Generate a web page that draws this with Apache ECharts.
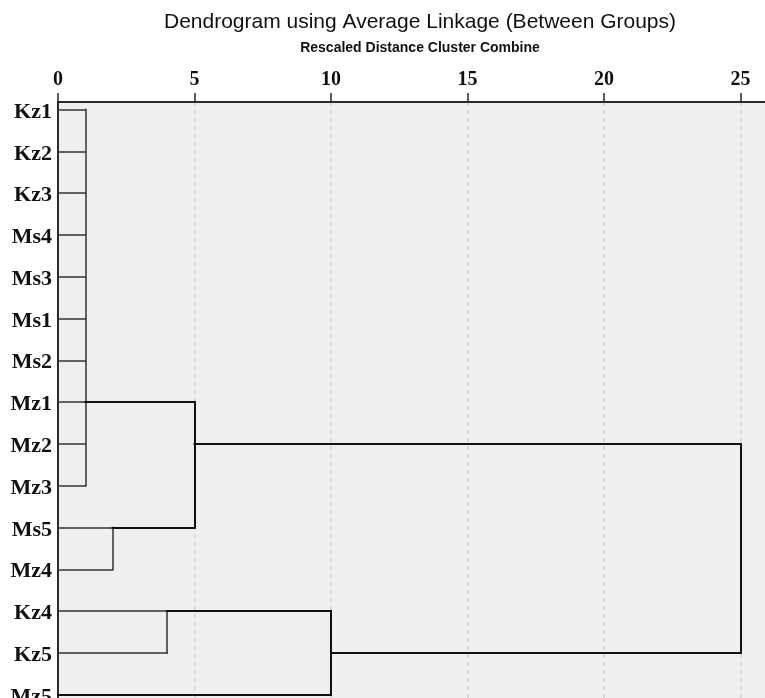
<!DOCTYPE html>
<html>
<head>
<meta charset="utf-8">
<script src="https://cdn.jsdelivr.net/npm/echarts@6.0.0/dist/echarts.min.js"></script>
<style>
  html, body { margin: 0; padding: 0; background: #ffffff; }
  #chart { width: 765px; height: 698px; }
</style>
</head>
<body>
<div id="chart"></div>
<script>
// ---- data ----
const leaves = ['Kz1','Kz2','Kz3','Ms4','Ms3','Ms1','Ms2','Mz1','Mz2','Mz3','Ms5','Mz4','Kz4','Kz5','Mz5'];
// children: leaf index (number) or earlier cluster ('c' + k)
const mergeChildren = [
  [0,1,2,3,4,5,6,7,8,9],
  [10,11],
  ['c0','c1'],
  [12,13],
  ['c3',14],
  ['c2','c4']
];
const mergeDistance = [1, 2, 5, 4, 10, 25];   // rescaled distance at which clusters combine
const mergeRow = [7, 10, 8, 12, 13, 10];        // row index of each cluster's connector line
const xTicks = [0, 5, 10, 15, 20, 25];
const titleText = 'Dendrogram using Average Linkage (Between Groups)';
const subtitleText = 'Rescaled Distance Cluster Combine';

// ---- build segments from the linkage ----
function nodeOf(ref) {
  if (typeof ref === 'number') return { x: 0, y: ref };
  const k = parseInt(ref.slice(1), 10);
  return { x: mergeDistance[k], y: mergeRow[k] };
}
const darkSegs = [];
const graySegs = [];
mergeChildren.forEach((children, k) => {
  const d = mergeDistance[k];
  const target = d >= 5 ? darkSegs : graySegs;
  const nodes = children.map(nodeOf);
  nodes.forEach(n => {
    target.push({ coords: [[n.x, n.y], [d, n.y]] });
  });
  const ys = nodes.map(n => n.y);
  target.push({ coords: [[d, Math.min(...ys)], [d, Math.max(...ys)]] });
});

const chart = echarts.init(document.getElementById('chart'), null, { renderer: 'canvas' });
chart.setOption({
  animation: false,
  backgroundColor: '#ffffff',
  title: [
    { text: titleText, left: 415, top: 7, textAlign: 'center',
      textStyle: { fontFamily: 'Liberation Sans, Arial, sans-serif', fontSize: 21, fontWeight: 'normal', color: '#111' } },
    { text: subtitleText, left: 415, top: 36, textAlign: 'center',
      textStyle: { fontFamily: 'Liberation Sans, Arial, sans-serif', fontSize: 14, fontWeight: 'bold', color: '#111' } }
  ],
  grid: { left: 58, right: 0, top: 102, bottom: 0, show: true, backgroundColor: '#efefef', borderWidth: 0,
          containLabel: false, outerBoundsMode: 'none' },
  xAxis: {
    type: 'value', position: 'top', min: 0, max: 25.9,
    axisLine: { show: true, onZero: false, lineStyle: { color: '#2a2a2a', width: 2 } },
    axisTick: { show: true, length: 9, customValues: xTicks, lineStyle: { color: '#2a2a2a', width: 1.5 } },
    axisLabel: { show: true, customValues: xTicks, margin: 12,
      fontFamily: 'Liberation Serif, Times New Roman, serif', fontWeight: 'bold', fontSize: 20, color: '#111' },
    splitLine: { show: true, customValues: xTicks.slice(1), lineStyle: { color: '#d2d2d2', width: 1.5, type: [4, 4] } }
  },
  yAxis: {
    type: 'value', inverse: true, min: -0.18, max: 14.08,
    axisLine: { show: true, onZero: false, lineStyle: { color: '#2a2a2a', width: 2 } },
    axisTick: { show: false },
    axisLabel: { show: true, customValues: leaves.map((_, i) => i), margin: 6, hideOverlap: false,
      verticalAlign: 'top', lineHeight: 5,
      formatter: v => leaves[Math.round(v)],
      fontFamily: 'Liberation Serif, Times New Roman, serif', fontWeight: 'bold', fontSize: 22, color: '#111' },
    splitLine: { show: false }
  },
  series: [
    {
      type: 'lines', coordinateSystem: 'cartesian2d', silent: true, z: 5,
      lineStyle: { color: '#333333', width: 1.5, opacity: 1, cap: 'square' },
      data: graySegs
    },
    {
      type: 'lines', coordinateSystem: 'cartesian2d', silent: true, z: 6,
      lineStyle: { color: '#111111', width: 2, opacity: 1, cap: 'square' },
      data: darkSegs
    }
  ]
});
</script>
</body>
</html>
